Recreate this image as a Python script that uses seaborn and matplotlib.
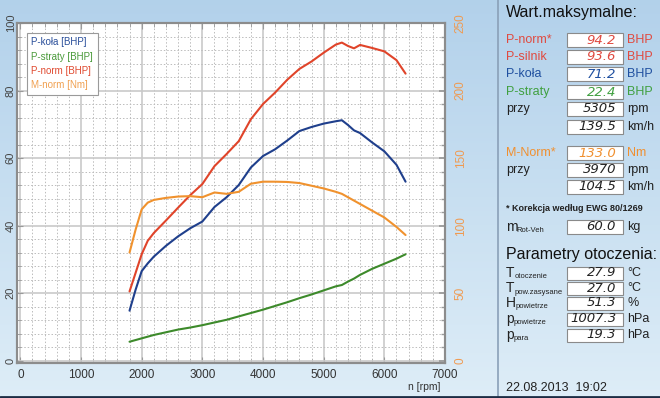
import numpy as np
import pandas as pd
import matplotlib
matplotlib.use("Agg")
import matplotlib.pyplot as plt
import seaborn as sns
from matplotlib.ticker import MultipleLocator
from matplotlib.lines import Line2D
from matplotlib.patches import Rectangle

# ---------------- data ----------------
rpm = [1800, 1900, 2000, 2100, 2200, 2400, 2600, 2800, 3000, 3200, 3400, 3600,
       3800, 4000, 4200, 4400, 4600, 4800, 5000, 5200, 5300, 5400, 5500, 5600,
       5800, 6000, 6200, 6350]
p_kola = [14.8, 21.0, 26.5, 28.8, 30.8, 34.0, 36.8, 39.2, 41.2, 45.5, 48.4, 52.0,
          57.2, 60.6, 62.6, 65.2, 68.0, 69.2, 70.2, 70.9, 71.2, 69.8, 68.2, 67.4,
          64.6, 62.0, 58.0, 53.0]
p_straty = [5.6, 6.1, 6.6, 7.1, 7.6, 8.4, 9.2, 9.8, 10.5, 11.3, 12.1, 13.1,
            14.1, 15.1, 16.2, 17.3, 18.5, 19.6, 20.8, 22.0, 22.4, 23.4, 24.3, 25.4,
            27.2, 28.7, 30.2, 31.5]
p_norm = [20.5, 26.0, 31.5, 35.5, 37.8, 41.5, 45.3, 49.0, 52.3, 57.6, 61.2, 65.0,
          71.5, 76.0, 79.4, 83.2, 86.4, 88.6, 91.2, 93.6, 94.2, 93.2, 92.5, 93.5,
          92.6, 91.6, 89.0, 85.0]
m_norm = [80.0, 97.0, 112.0, 117.0, 119.0, 120.5, 121.5, 121.8, 121.0, 124.5, 123.5, 125.0,
          131.0, 132.5, 132.5, 132.3, 131.5, 129.5, 127.5, 125.0, 123.5, 121.0, 118.5, 116.0,
          111.0, 106.0, 99.0, 93.0]

series_names = ["P-koła [BHP]", "P-straty [BHP]", "P-norm [BHP]", "M-norm [Nm]"]
line_colors = ["#1f3f8c", "#3d8a2b", "#e0442a", "#f0922e"]
legend_colors = ["#2a4f9a", "#4a9a3a", "#e04a30", "#f0a050"]

x_ticks = [0, 1000, 2000, 3000, 4000, 5000, 6000, 7000]
y_left_ticks = [0, 20, 40, 60, 80, 100]
y_right_ticks = [0, 50, 100, 150, 200, 250]

panel_max = [("P-norm*", "94.2", "BHP", "#e04a40"),
             ("P-silnik", "93.6", "BHP", "#e04a40"),
             ("P-koła", "71.2", "BHP", "#2050a0"),
             ("P-straty", "22.4", "BHP", "#40a040"),
             ("przy", "5305", "rpm", "#222222"),
             ("", "139.5", "km/h", "#222222"),
             ("M-Norm*", "133.0", "Nm", "#f09030"),
             ("przy", "3970", "rpm", "#222222"),
             ("", "104.5", "km/h", "#222222")]
panel_env = [("T", "otoczenie", "27.9", "°C"),
             ("T", "pow.zasysane", "27.0", "°C"),
             ("H", "powietrze", "51.3", "%"),
             ("p", "powietrze", "1007.3", "hPa"),
             ("p", "para", "19.3", "hPa")]

df = pd.DataFrame({"rpm": rpm, "P-koła [BHP]": p_kola, "P-straty [BHP]": p_straty,
                   "P-norm [BHP]": p_norm, "M-norm [Nm]": m_norm})

# ---------------- figure ----------------
sns.set_theme(style="white")
plt.rcParams["font.family"] = ["Liberation Sans", "DejaVu Sans"]

W, H = 660, 398
fig = plt.figure(figsize=(W / 100, H / 100), dpi=100)

def fx(x):
    return x / W

def fy(y):
    return 1 - y / H

# background gradient
bg = fig.add_axes([0, 0, 1, 1], zorder=-10)
top = np.array([0.70, 0.82, 0.92])
bot = np.array([0.87, 0.93, 0.97])
t = np.linspace(0, 1, 256)[:, None]
grad = top[None, :] * (1 - t) + bot[None, :] * t
bg.imshow(grad[:, None, :].repeat(4, axis=1), aspect="auto", extent=[0, 1, 0, 1])
bg.set_axis_off()

ax = fig.add_axes([fx(17), fy(363), fx(445) - fx(17), fy(23) - fy(363)])
ax.set_facecolor("white")
ax2 = ax.twinx()

for name, col in zip(series_names[:3], line_colors[:3]):
    sns.lineplot(data=df, x="rpm", y=name, ax=ax, color=col, lw=1.5, legend=False)
sns.lineplot(data=df, x="rpm", y="M-norm [Nm]", ax=ax2, color=line_colors[3], lw=1.5, legend=False)

ax.set_xlim(-55, 7000)
ax.set_ylim(-0.7, 100)
ax2.set_ylim(-1.75, 250)
ax.set_xticks(x_ticks)
ax.set_yticks(y_left_ticks)
ax2.set_yticks(y_right_ticks)
ax.xaxis.set_minor_locator(MultipleLocator(200))
ax.yaxis.set_minor_locator(MultipleLocator(4))
ax.set_xlabel("")
ax.set_ylabel("")
ax2.set_ylabel("")

ax.grid(which="major", color="#c9c9c9", lw=1.2, ls="-")
ax.grid(which="minor", color="#bcbcbc", lw=0.7, ls=(0, (1.5, 2)))
ax.set_axisbelow(True)

for a in (ax, ax2):
    for s in a.spines.values():
        s.set_color("#8c8c8c")
        s.set_linewidth(1.5)
        s.set_visible(True)

ax.tick_params(axis="both", which="both", direction="in", color="#9a9a9a",
               top=True, bottom=True, left=True, right=False)
ax.tick_params(which="major", length=4, width=0.8)
ax.tick_params(which="minor", length=3, width=0.6)
ax.tick_params(axis="x", labelsize=8.5, labelcolor="#333333", pad=4)
ax.tick_params(axis="y", labelsize=8, labelcolor="#444444", pad=1, labelrotation=90)
for lbl in ax.get_yticklabels():
    lbl.set_verticalalignment("center")
ax2.tick_params(axis="y", direction="in", length=4, color="#9a9a9a", labelsize=8.5,
                labelcolor="#f09a50", pad=7, labelrotation=90)
ax2.yaxis.set_minor_locator(MultipleLocator(10))
ax2.tick_params(axis="y", which="minor", direction="in", length=3, color="#9a9a9a")
for lbl in ax2.get_yticklabels():
    lbl.set_verticalalignment("center")

fig.text(fx(440), fy(387), "n [rpm]", ha="right", va="center", fontsize=7.5, color="#333333")

# legend
handles = [Line2D([], [], alpha=0) for _ in series_names]
leg = ax2.legend(handles, series_names, loc="upper left",
                 bbox_to_anchor=((27 - 17) / 428, 1 - (33 - 23) / 340),
                 handlelength=0, handletextpad=0, fontsize=7, labelspacing=0.45,
                 frameon=True, fancybox=False, borderpad=0.45, borderaxespad=0)
for txt, c in zip(leg.get_texts(), legend_colors):
    txt.set_color(c)
leg.get_frame().set_edgecolor("#9a9a9a")
leg.get_frame().set_linewidth(0.8)
leg.get_frame().set_facecolor("white")
leg.get_frame().set_alpha(1)

# ---------------- side panel ----------------
fig.add_artist(Line2D([fx(498), fx(498)], [0, 1], color="#8aa0b8", lw=1.2))
fig.add_artist(Line2D([0, 1], [fy(397), fy(397)], color="#1c2c44", lw=2))

fig.text(fx(506), fy(13), "Wart.maksymalne:", fontsize=11.5, va="center", ha="left", color="#111111")

def value_box(y, val, color, h=14):
    fig.add_artist(Rectangle((fx(567), fy(y + h / 2)), fx(623) - fx(567), h / H,
                             facecolor="white", edgecolor="#8a8a8a", lw=0.8))
    fig.text(fx(616), fy(y), val, ha="right", va="center", fontsize=9.5, style="italic",
             color=color, family=["DejaVu Sans"])

ys_max = [40, 57, 74, 92, 109, 127, 153, 170, 187]
for (lab, val, unit, col), y in zip(panel_max, ys_max):
    if lab:
        fig.text(fx(506), fy(y), lab, fontsize=9, va="center", ha="left", color=col)
    value_box(y, val, col)
    fig.text(fx(627), fy(y), unit, fontsize=9, va="center", ha="left", color=col)

fig.text(fx(506), fy(208), "* Korekcja według EWG 80/1269", fontsize=6.5, fontweight="bold",
         va="center", ha="left", color="#222222")

# m_Rot-Veh
fig.text(fx(506), fy(227), "m", fontsize=10, va="center", ha="left", color="#222222")
fig.text(fx(516), fy(231), "Rot-Veh", fontsize=5.5, va="center", ha="left", color="#222222")
value_box(227, "60.0", "#222222")
fig.text(fx(627), fy(227), "kg", fontsize=9, va="center", ha="left", color="#222222")

fig.text(fx(506), fy(255), "Parametry otoczenia:", fontsize=11.5, va="center", ha="left", color="#111111")

ys_env = [273, 288, 303, 319, 335]
sub_dx = {"T": 9, "H": 10, "p": 8}
for (main, sub, val, unit), y in zip(panel_env, ys_env):
    fig.text(fx(506), fy(y), main, fontsize=10, va="center", ha="left", color="#222222")
    fig.text(fx(506 + sub_dx[main]), fy(y + 4), sub, fontsize=5.5, va="center", ha="left",
             color="#222222")
    value_box(y, val, "#222222", h=13)
    fig.text(fx(627), fy(y), unit, fontsize=9, va="center", ha="left", color="#222222")

fig.text(fx(506), fy(388), "22.08.2013  19:02", fontsize=9, va="center", ha="left", color="#222222")

fig.savefig("out.png", dpi=100)
